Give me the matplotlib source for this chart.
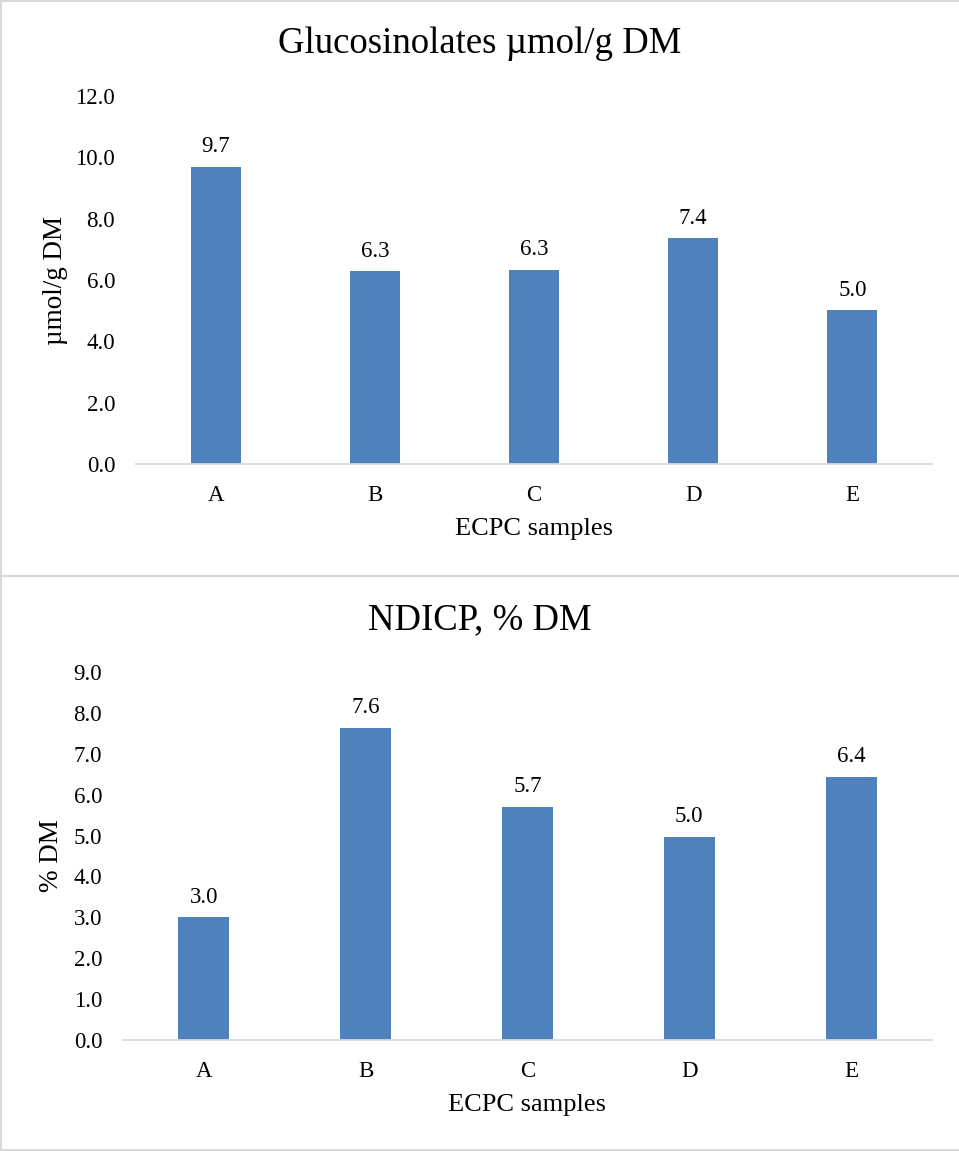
import matplotlib
matplotlib.use("Agg")
import matplotlib.pyplot as plt
from matplotlib.lines import Line2D

plt.rcParams['font.family'] = ['Liberation Serif', 'DejaVu Serif']

categories = ['A', 'B', 'C', 'D', 'E']
gluc_values = [9.68, 6.28, 6.33, 7.36, 5.01]
ndicp_values = [3.0, 7.63, 5.70, 4.97, 6.43]
gluc_ticks = [0.0, 2.0, 4.0, 6.0, 8.0, 10.0, 12.0]
ndicp_ticks = [0.0, 1.0, 2.0, 3.0, 4.0, 5.0, 6.0, 7.0, 8.0, 9.0]

W, H = 959, 1151
fig = plt.figure(figsize=(W / 100, H / 100), dpi=100)

BAR = '#4f81bd'
GRAY = '#d9d9d9'


def fx(px):
    return px / W


def fy(py):
    return 1 - py / H


# panel borders
for (x0, y0, x1, y1, lw) in [
    (1, 0, 1, H, 2.0),
    (0, 1, W, 1, 2.0),
    (0, 575.5, W, 575.5, 2.2),
    (0, 1149.5, W, 1149.5, 2.0),
]:
    fig.add_artist(Line2D([fx(x0), fx(x1)], [fy(y0), fy(y1)], transform=fig.transFigure,
                          color=GRAY, lw=lw * 0.72))


def panel(rect, values, ticks, title, ylabel, title_y, ylabel_x, xlabel_y):
    ax = fig.add_axes(rect)
    x = list(range(len(categories)))
    ax.bar(x, values, width=0.314, color=BAR, zorder=2)
    ax.set_xlim(-0.5, len(categories) - 0.5)
    ax.set_ylim(ticks[0], ticks[-1])
    ax.set_yticks(ticks)
    ax.set_yticklabels([f"{t:.1f}" for t in ticks], fontsize=16.5)
    ax.set_xticks(x)
    ax.set_xticklabels(categories, fontsize=16.5)
    ax.tick_params(axis='y', length=0, pad=15)
    ax.tick_params(axis='x', length=0, pad=15)
    for s in ['top', 'right', 'left']:
        ax.spines[s].set_visible(False)
    ax.spines['bottom'].set_color(GRAY)
    ax.spines['bottom'].set_linewidth(1.3)
    ax.spines['bottom'].set_zorder(3)
    for xi, v in zip(x, values):
        ax.annotate(f"{v:.1f}", (xi, v), xytext=(0, 7), textcoords='offset points',
                    ha='center', va='bottom', fontsize=16.5)
    fig.text(0.5, title_y, title, ha='center', va='center', fontsize=26.5)
    fig.text(ylabel_x, rect[1] + rect[3] / 2, ylabel, ha='center', va='center',
             rotation=90, fontsize=19.5)
    fig.text(rect[0] + rect[2] / 2, xlabel_y, 'ECPC samples', ha='center', va='center',
             fontsize=19)
    return ax


panel([fx(136), fy(464), fx(932) - fx(136), fy(96) - fy(464)], gluc_values, gluc_ticks,
      'Glucosinolates µmol/g DM', 'µmol/g DM', fy(44), fx(55), fy(529))
panel([fx(123), fy(1040), fx(932) - fx(123), fy(672) - fy(1040)], ndicp_values, ndicp_ticks,
      'NDICP, % DM', '% DM', fy(620), fx(52), fy(1105))

fig.savefig('out.png', dpi=100)
